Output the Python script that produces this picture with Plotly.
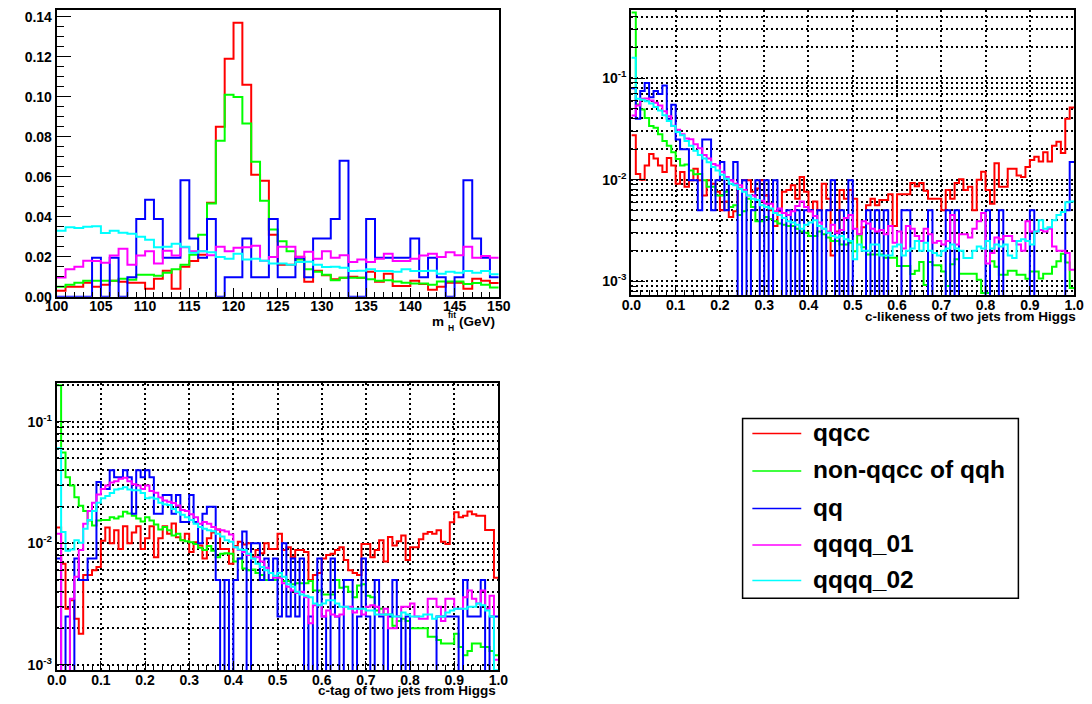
import numpy as np
import plotly.graph_objects as go

W, H = 1092, 704
FONT = "Liberation Sans, Arial, sans-serif"

# ------------------------------------------------------------------ data
series_names = ["qqcc", "non-qqcc of qqh", "qq", "qqqq_01", "qqqq_02"]
series_colors = ["#ff0000", "#00ff00", "#0000ff", "#ff00ff", "#00ffff"]

# panel 1 : m_H^fit, 50 bins of 1 GeV from 100 to 150
mh_edges = list(range(100, 151))
mh_qqcc = [0.003, 0.005, 0.005, 0.007, 0.005, 0.006, 0.008, 0.0075, 0.007, 0.007,
           0.004, 0.009, 0.013, 0.004, 0.015, 0.0178, 0.021, 0.047, 0.085, 0.119,
           0.137, 0.106, 0.061, 0.058, 0.031, 0.016, 0.016, 0.020, 0.0074, 0.013,
           0.0107, 0.0087, 0.0095, 0.010, 0.0095, 0.0125, 0.0074, 0.0115, 0.0053, 0.0053,
           0.008, 0.0063, 0.0035, 0.005, 0.007, 0.007, 0.004, 0.009, 0.008, 0.0068]
mh_nonqqcc = [0.005, 0.006, 0.007, 0.008, 0.008, 0.008, 0.008, 0.009, 0.0085, 0.011,
              0.011, 0.0105, 0.012, 0.0137, 0.016, 0.021, 0.031, 0.0466, 0.078, 0.101,
              0.0998, 0.0866, 0.0675, 0.048, 0.0336, 0.0277, 0.0227, 0.0186, 0.0137, 0.0125,
              0.0109, 0.0082, 0.0095, 0.0095, 0.0095, 0.0087, 0.008, 0.0082, 0.0076, 0.007,
              0.0066, 0.0066, 0.006, 0.0076, 0.0076, 0.0076, 0.0063, 0.0068, 0.006, 0.0046]
mh_qq = [0.0, 0.0, 0.0, 0.0, 0.0194, 0.0, 0.0194, 0.0, 0.0097, 0.0388,
         0.0485, 0.0388, 0.0194, 0.0194, 0.0582, 0.0291, 0.0194, 0.0388, 0.0, 0.0097,
         0.0097, 0.0291, 0.0097, 0.0097, 0.0388, 0.0097, 0.0097, 0.0194, 0.0097, 0.0291,
         0.0291, 0.0388, 0.0679, 0.0, 0.0, 0.0388, 0.0194, 0.0194, 0.0194, 0.0194,
         0.0291, 0.0097, 0.0194, 0.0097, 0.0, 0.0097, 0.0582, 0.0291, 0.0194, 0.0097]
mh_qqqq01 = [0.0096, 0.0137, 0.015, 0.018, 0.0178, 0.017, 0.0206, 0.024, 0.016, 0.0206,
             0.0227, 0.0166, 0.023, 0.0206, 0.0247, 0.0227, 0.0227, 0.0207, 0.025, 0.0227,
             0.0244, 0.0247, 0.0255, 0.018, 0.0198, 0.025, 0.025, 0.0198, 0.0224, 0.019,
             0.0227, 0.0194, 0.0207, 0.0173, 0.0186, 0.0173, 0.019, 0.0214, 0.0178, 0.0178,
             0.019, 0.0206, 0.0214, 0.0198, 0.0222, 0.0207, 0.025, 0.0194, 0.0203, 0.0194]
mh_qqqq02 = [0.033, 0.0347, 0.0343, 0.035, 0.0352, 0.0318, 0.033, 0.032, 0.0315, 0.030,
             0.0285, 0.0247, 0.025, 0.0265, 0.025, 0.022, 0.0227, 0.0222, 0.0198, 0.019,
             0.0214, 0.0186, 0.019, 0.018, 0.0166, 0.0166, 0.016, 0.0173, 0.0175, 0.016,
             0.0148, 0.015, 0.0145, 0.0128, 0.013, 0.0137, 0.0128, 0.0128, 0.0125, 0.0137,
             0.0128, 0.0128, 0.013, 0.0115, 0.0125, 0.012, 0.0128, 0.012, 0.0128, 0.0112]

# panel 2 : c-likeness, 100 bins from 0 to 1
cl_qqcc = [0.0273, 0.0114, 0.0100, 0.0138, 0.0179, 0.0162, 0.0138, 0.0119, 0.0163, 0.0138,
           0.0091, 0.0119, 0.0085, 0.0099, 0.0128, 0.0099, 0.0070, 0.0099, 0.0091, 0.0076,
           0.0050, 0.0061, 0.0043, 0.0049, 0.0082, 0.0099, 0.0099, 0.0076, 0.0082, 0.0099,
           0.0070, 0.0050, 0.0035, 0.0049, 0.0076, 0.0079, 0.0088, 0.0065, 0.0106, 0.0076,
           0.0049, 0.0061, 0.0050, 0.0091, 0.0065, 0.0018, 0.0031, 0.0079, 0.0065, 0.0079,
           0.0065, 0.0029, 0.0034, 0.0056, 0.0065, 0.0056, 0.0063, 0.0063, 0.0072, 0.0035,
           0.0072, 0.0072, 0.0072, 0.0093, 0.0086, 0.0093, 0.0078, 0.0065, 0.0065, 0.0065,
           0.0050, 0.0079, 0.0065, 0.0093, 0.0101, 0.0079, 0.0085, 0.0050, 0.0100, 0.0120,
           0.0079, 0.0058, 0.0145, 0.0085, 0.0085, 0.0128, 0.0128, 0.0110, 0.0106, 0.0133,
           0.0156, 0.0168, 0.0151, 0.0186, 0.0151, 0.0216, 0.0236, 0.0183, 0.0397, 0.0512]
cl_nonqqcc = [0.44, 0.055, 0.049, 0.0405, 0.0337, 0.0325, 0.028, 0.024, 0.0216, 0.0186,
              0.016, 0.0138, 0.0141, 0.0123, 0.0113, 0.0114, 0.0099, 0.0085, 0.0085, 0.0070,
              0.0070, 0.0076, 0.0054, 0.0056, 0.0045, 0.0049, 0.0065, 0.0054, 0.0039, 0.0039,
              0.0043, 0.0041, 0.0039, 0.0037, 0.0036, 0.0035, 0.0035, 0.0033, 0.0031, 0.0030,
              0.0028, 0.0028, 0.0031, 0.0029, 0.0027, 0.0025, 0.0025, 0.0023, 0.0023, 0.0024,
              0.00198, 0.00284, 0.00217, 0.00184, 0.00184, 0.00184, 0.00184, 0.00171, 0.00171, 0.00171,
              0.00142, 0.00142, 0.00142, 0.00118, 0.00127, 0.00155, 0.00092, 0.00155, 0.00144, 0.00144,
              0.00125, 0.00090, 0.00147, 0.00165, 0.00119, 0.00119, 0.00119, 0.00119, 0.00104, 0.00077,
              0.00077, 0.00158, 0.00139, 0.00116, 0.00116, 0.00127, 0.00127, 0.00116, 0.00116, 0.00106,
              0.00125, 0.00125, 0.00107, 0.00119, 0.00119, 0.00139, 0.00158, 0.00187, 0.00153, 0.00086]
cl_qq = [0.0795, 0.0398, 0.0746, 0.0895, 0.0646, 0.0746, 0.0696, 0.0845, 0.0398, 0.0547,
         0.0249, 0.0199, 0.0199, 0.0099, 0.0099, 0.0050, 0.0249, 0.0249, 0.0050, 0.0099,
         0.0149, 0.0050, 0.0099, 0.0149, 0.0, 0.0099, 0.0, 0.0050, 0.0099, 0.0,
         0.0099, 0.0, 0.0099, 0.0050, 0.0, 0.0050, 0.0, 0.0050, 0.0, 0.0050,
         0.0050, 0.0, 0.0050, 0.0, 0.0050, 0.0099, 0.0, 0.0050, 0.0, 0.0099,
         0.0, 0.0, 0.0, 0.0050, 0.0, 0.0050, 0.0, 0.0050, 0.0, 0.0,
         0.0, 0.0050, 0.0050, 0.0, 0.0, 0.0, 0.0, 0.0050, 0.0, 0.0,
         0.0, 0.0050, 0.0, 0.0050, 0.0, 0.0, 0.0, 0.0, 0.0, 0.0,
         0.0050, 0.0, 0.0, 0.0050, 0.0, 0.0, 0.0, 0.0, 0.0, 0.0,
         0.0050, 0.0, 0.0, 0.0, 0.0, 0.0, 0.0, 0.0, 0.0050, 0.0149]
cl_qqqq01 = [0.0428, 0.0535, 0.0625, 0.063, 0.060, 0.057, 0.0535, 0.047, 0.042, 0.034,
             0.031, 0.028, 0.0254, 0.025, 0.0223, 0.0204, 0.0175, 0.0162, 0.0143, 0.0138,
             0.012, 0.0106, 0.0099, 0.0091, 0.0088, 0.0079, 0.007, 0.007, 0.0063, 0.0062,
             0.0058, 0.0058, 0.0049, 0.0052, 0.0047, 0.0045, 0.0049, 0.0055, 0.0061, 0.0054,
             0.0049, 0.0044, 0.0038, 0.0033, 0.0031, 0.0036, 0.0030, 0.0032, 0.0042, 0.0045,
             0.0033, 0.0029, 0.0039, 0.0037, 0.0033, 0.0031, 0.0032, 0.0029, 0.0035, 0.0024,
             0.0031, 0.0021, 0.0035, 0.0033, 0.0028, 0.0025, 0.0033, 0.0029, 0.0024, 0.0025,
             0.0023, 0.0025, 0.0045, 0.0023, 0.0029, 0.0029, 0.0027, 0.0033, 0.0039, 0.0047,
             0.0015, 0.0019, 0.0027, 0.0026, 0.0028, 0.0028, 0.0025, 0.0023, 0.0020, 0.0039,
             0.0031, 0.0031, 0.0032, 0.0031, 0.0033, 0.0022, 0.0020, 0.0020, 0.0019, 0.0013]
cl_qqqq02 = [0.158, 0.0625, 0.061, 0.059, 0.056, 0.052, 0.048, 0.043, 0.0377, 0.0337,
             0.0295, 0.0273, 0.024, 0.0216, 0.0193, 0.0175, 0.0162, 0.0148, 0.0133, 0.0123,
             0.0112, 0.0102, 0.0091, 0.0088, 0.0081, 0.0076, 0.007, 0.0065, 0.0063, 0.0056,
             0.0054, 0.0052, 0.0047, 0.0045, 0.0042, 0.0039, 0.0038, 0.0036, 0.0033, 0.0036,
             0.0038, 0.0040, 0.0035, 0.0033, 0.0030, 0.0028, 0.0027, 0.0028, 0.0026, 0.0025,
             0.00165, 0.0023, 0.0020, 0.0020, 0.0023, 0.0023, 0.0018, 0.0018, 0.0018, 0.0022,
             0.0023, 0.0018, 0.0020, 0.0021, 0.0025, 0.0020, 0.0024, 0.0020, 0.0019, 0.0018,
             0.0020, 0.0021, 0.0023, 0.0021, 0.0020, 0.0017, 0.0017, 0.0020, 0.0022, 0.0021,
             0.0025, 0.0021, 0.0023, 0.0022, 0.0023, 0.0018, 0.0017, 0.0025, 0.0026, 0.0025,
             0.0023, 0.0031, 0.0040, 0.0033, 0.0034, 0.0040, 0.0045, 0.0048, 0.0060, 0.0061]

# panel 3 : c-tag, 100 bins from 0 to 1
ct_qqcc = [0.0135, 0.0068, 0.0029, 0.0034, 0.0024, 0.0018, 0.0055, 0.0055, 0.0060, 0.0064,
           0.0105, 0.0135, 0.0100, 0.0128, 0.0090, 0.0138, 0.0100, 0.0123, 0.0138, 0.0090,
           0.0110, 0.0138, 0.0077, 0.0110, 0.0138, 0.0120, 0.0146, 0.0112, 0.0106, 0.0120,
           0.0085, 0.0102, 0.0096, 0.0075, 0.0110, 0.0123, 0.0130, 0.0090, 0.0090, 0.0068,
           0.0095, 0.0103, 0.0098, 0.0100, 0.0077, 0.0088, 0.0083, 0.0100, 0.0090, 0.0090,
           0.0120, 0.0088, 0.0093, 0.0077, 0.0088, 0.0088, 0.0085, 0.0050, 0.0055, 0.0057,
           0.0075, 0.0080, 0.0082, 0.0088, 0.0093, 0.0073, 0.0060, 0.0057, 0.0055, 0.0099,
           0.0099, 0.0077, 0.0088, 0.0106, 0.0071, 0.0113, 0.0096, 0.0104, 0.0116, 0.0073,
           0.0093, 0.0093, 0.0108, 0.0120, 0.0124, 0.0120, 0.0128, 0.0103, 0.0099, 0.0149,
           0.0180, 0.0164, 0.0169, 0.0183, 0.0174, 0.0169, 0.0169, 0.0129, 0.0129, 0.0052]
ct_nonqqcc = [0.20, 0.056, 0.035, 0.030, 0.024, 0.0204, 0.0185, 0.0154, 0.014, 0.0154,
              0.0156, 0.0156, 0.0164, 0.016, 0.0166, 0.0182, 0.0176, 0.0169, 0.016, 0.0151,
              0.0164, 0.0154, 0.0143, 0.013, 0.0136, 0.0128, 0.0116, 0.012, 0.0106, 0.0104,
              0.0102, 0.0099, 0.0092, 0.0088, 0.0095, 0.0087, 0.0077, 0.0082, 0.0083, 0.0082,
              0.0071, 0.0075, 0.0062, 0.0060, 0.0061, 0.0057, 0.0055, 0.0050, 0.0050, 0.0050,
              0.0053, 0.0049, 0.0049, 0.0046, 0.0047, 0.0047, 0.0047, 0.0049, 0.0041, 0.0041,
              0.0038, 0.0038, 0.0038, 0.0050, 0.0043, 0.0044, 0.0040, 0.0036, 0.0045, 0.0046,
              0.0037, 0.0036, 0.0028, 0.0029, 0.0026, 0.0026, 0.0021, 0.0023, 0.0024, 0.0023,
              0.0020, 0.0020, 0.0020, 0.0020, 0.0017, 0.0017, 0.0016, 0.0015, 0.0015, 0.0015,
              0.0018, 0.0014, 0.0012, 0.0013, 0.0015, 0.0015, 0.0014, 0.0014, 0.0013, 0.0012]
ct_qq = [0.0075, 0.0, 0.0025, 0.0, 0.0075, 0.005, 0.005, 0.0075, 0.0075, 0.032,
         0.028, 0.028, 0.040, 0.035, 0.035, 0.040, 0.035, 0.0175, 0.040, 0.035,
         0.040, 0.035, 0.0175, 0.0175, 0.025, 0.025, 0.0175, 0.025, 0.015, 0.015,
         0.025, 0.015, 0.010, 0.0175, 0.020, 0.020, 0.005, 0.0, 0.005, 0.0,
         0.005, 0.0075, 0.0125, 0.0, 0.010, 0.010, 0.005, 0.0075, 0.005, 0.0075,
         0.0025, 0.010, 0.0025, 0.0075, 0.0025, 0.0075, 0.0, 0.0025, 0.0, 0.0075,
         0.0025, 0.0, 0.0075, 0.0025, 0.0, 0.005, 0.005, 0.0, 0.0025, 0.0075,
         0.0025, 0.0, 0.005, 0.0025, 0.0, 0.0025, 0.005, 0.0025, 0.0, 0.0025,
         0.0, 0.0, 0.0, 0.0, 0.0, 0.0, 0.0025, 0.0025, 0.0025, 0.0025,
         0.0025, 0.0, 0.005, 0.0025, 0.0025, 0.0025, 0.005, 0.0, 0.0025, 0.0025]
ct_qqqq01 = [0.012, 0.0, 0.0, 0.0035, 0.0053, 0.0088, 0.0145, 0.0185, 0.0216, 0.0253,
             0.0280, 0.0300, 0.0317, 0.0325, 0.0340, 0.0346, 0.0325, 0.0306, 0.0300, 0.0280,
             0.0300, 0.0270, 0.0261, 0.0238, 0.0225, 0.0220, 0.0215, 0.0205, 0.0188, 0.0185,
             0.0174, 0.0164, 0.0145, 0.0150, 0.0145, 0.0136, 0.0130, 0.0128, 0.0125, 0.0118,
             0.0093, 0.0088, 0.0085, 0.0080, 0.0075, 0.0077, 0.0071, 0.0063, 0.0057, 0.0052,
             0.0052, 0.0047, 0.0044, 0.0041, 0.0039, 0.0040, 0.0036, 0.0022, 0.0031, 0.0031,
             0.0025, 0.0028, 0.0026, 0.0025, 0.0026, 0.0030, 0.0030, 0.0027, 0.0029, 0.0026,
             0.0030, 0.0031, 0.0030, 0.0026, 0.0029, 0.0020, 0.0020, 0.0025, 0.0030, 0.0030,
             0.0032, 0.0025, 0.0024, 0.0024, 0.0035, 0.0035, 0.0030, 0.0023, 0.0035, 0.0035,
             0.0029, 0.0029, 0.0036, 0.0041, 0.0035, 0.0032, 0.0041, 0.0029, 0.0037, 0.0011]
ct_qqqq02 = [0.0607, 0.0124, 0.0087, 0.0089, 0.0106, 0.0101, 0.0132, 0.0156, 0.0185, 0.0216,
             0.0235, 0.0245, 0.026, 0.0278, 0.0282, 0.0290, 0.0278, 0.0273, 0.0273, 0.026,
             0.0235, 0.0238, 0.0233, 0.0216, 0.0210, 0.0207, 0.0192, 0.018, 0.0172, 0.0164,
             0.0156, 0.0145, 0.0136, 0.0132, 0.0128, 0.0126, 0.0120, 0.0114, 0.0106, 0.0103,
             0.0093, 0.0089, 0.0088, 0.0082, 0.0075, 0.0068, 0.0064, 0.0060, 0.0057, 0.0054,
             0.0057, 0.0053, 0.0046, 0.0044, 0.0040, 0.0038, 0.0037, 0.0036, 0.0032, 0.0031,
             0.0032, 0.0034, 0.0034, 0.0032, 0.0030, 0.0030, 0.0029, 0.0029, 0.0029, 0.0029,
             0.0028, 0.0028, 0.0026, 0.0026, 0.0026, 0.0026, 0.0025, 0.0025, 0.0027, 0.0026,
             0.0025, 0.0025, 0.0025, 0.0026, 0.0026, 0.0024, 0.0025, 0.0025, 0.0027, 0.0028,
             0.0029, 0.0029, 0.0029, 0.0030, 0.0030, 0.0032, 0.0031, 0.0028, 0.0025, 0.0009]

x_edges_unit = np.linspace(0.0, 1.0, 101)

# ------------------------------------------------------------------ helpers
def hist_trace(edges, vals, color, xa, ya, log=False):
    v = np.asarray(vals, dtype=float)
    if log:
        v = np.where(v > 0, v, 1e-7)   # empty bins drop below the axis
    y = np.append(v, v[-1])
    return go.Scatter(x=list(edges), y=y, mode="lines",
                      line=dict(color=color, width=2, shape="hv"),
                      xaxis=xa, yaxis=ya, showlegend=False, hoverinfo="skip")

fig = go.Figure()
panels = [
    (mh_edges, [mh_qqcc, mh_nonqqcc, mh_qq, mh_qqqq01, mh_qqqq02], "x", "y", False),
    (x_edges_unit, [cl_qqcc, cl_nonqqcc, cl_qq, cl_qqqq01, cl_qqqq02], "x2", "y2", True),
    (x_edges_unit, [ct_qqcc, ct_nonqqcc, ct_qq, ct_qqqq01, ct_qqqq02], "x3", "y3", True),
]
for edges, sers, xa, ya, lg in panels:
    for vals, col in zip(sers, series_colors):
        fig.add_trace(hist_trace(edges, vals, col, xa, ya, lg))

def px_dom_x(a, b):
    return [a / W, min(1.0, b / W)]

def px_dom_y(top, bottom):
    return [1 - bottom / H, 1 - top / H]

tickfont = dict(family=FONT, size=14, color="black", weight="bold")
GRID = dict(showgrid=True, gridcolor="black", gridwidth=1.5, griddash="2px,3px")
frame = dict(showline=True, linecolor="black", linewidth=2, mirror=True, zeroline=False)

def log_minor(lo, hi):
    vals = []
    for d in range(-5, 1):
        for m in range(2, 10):
            v = m * 10.0 ** d
            if lo < v < hi:
                vals.append(v)
    return vals

def log_axis(dom, rng):
    lo, hi = 10 ** rng[0], 10 ** rng[1]
    return dict(domain=dom, type="log", range=rng, tickmode="array",
                tickvals=[1e-3, 1e-2, 1e-1],
                ticktext=["10<sup>-3</sup>", "10<sup>-2</sup>", "10<sup>-1</sup>"],
                ticks="inside", ticklen=14, tickwidth=1, tickcolor="black",
                tickfont=tickfont,
                minor=dict(tickmode="array", tickvals=log_minor(lo, hi), ticks="inside",
                           ticklen=7, tickcolor="black", showgrid=True, gridcolor="black",
                           gridwidth=1.5, griddash="2px,3px"),
                **GRID, **frame)

def unit_xaxis(dom, anchor):
    return dict(domain=dom, range=[0, 1], anchor=anchor, tickmode="linear", tick0=0, dtick=0.1,
                tickformat=".1f", ticks="inside", ticklen=9, tickwidth=1, tickcolor="black",
                tickfont=tickfont, ticklabelstandoff=-4,
                minor=dict(dtick=0.02, tick0=0, ticks="inside", ticklen=5, tickcolor="black",
                           showgrid=False),
                **GRID, **frame)

layout = dict(
    width=W, height=H, margin=dict(l=0, r=0, t=0, b=0),
    paper_bgcolor="white", plot_bgcolor="white", showlegend=False,
    xaxis=dict(domain=px_dom_x(45.7, 497.7), range=[100, 150], anchor="y",
               tickmode="linear", tick0=100, dtick=5, ticks="inside", ticklen=9,
               tickwidth=1, tickcolor="black", tickfont=tickfont, ticklabelstandoff=-4,
               minor=dict(dtick=1, tick0=100, ticks="inside", ticklen=5, tickcolor="black"),
               showgrid=False, **frame),
    yaxis=dict(domain=px_dom_y(9, 299.5), range=[0, 0.1434], anchor="x",
               tickmode="linear", tick0=0, dtick=0.02, tickformat=".2f",
               ticks="inside", ticklen=14, tickwidth=1, tickcolor="black", tickfont=tickfont,
               minor=dict(dtick=0.005, tick0=0, ticks="inside", ticklen=7, tickcolor="black"),
               showgrid=False, **frame),
    xaxis2=unit_xaxis(px_dom_x(633.3, 1086), "y2"),
    yaxis2=dict(anchor="x2", **log_axis(px_dom_y(9.3, 297.7), [-3.133, -0.333])),
    xaxis3=unit_xaxis(px_dom_x(45.7, 497.3), "y3"),
    yaxis3=dict(anchor="x3", **log_axis(px_dom_y(386.7, 677.7), [-3.043, -0.678])),
)
fig.update_layout(**layout)

def ann(text, x, y, size, xanchor="left", yanchor="middle"):
    return dict(text=text, x=x / W, y=1 - y / H, xref="paper", yref="paper",
                showarrow=False, xanchor=xanchor, yanchor=yanchor,
                font=dict(family=FONT, size=size, color="black", weight="bold"))

annotations = [
    ann("(GeV)", 496, 325, 13.5, "right"),
    ann("m", 444, 325, 13.5, "right"),
    ann("fit", 444, 318, 8.5, "left"),
    ann("H", 444, 331, 8.5, "left"),
    ann("c-likeness of two jets from Higgs", 1090, 320, 13.5, "right"),
    ann("c-tag of two jets from Higgs", 497, 698.5, 13.5, "right"),
]

# legend box drawn by hand (ROOT TLegend look)
shapes = [dict(type="rect", xref="paper", yref="paper",
               x0=747 / W, x1=1029 / W, y0=1 - 605 / H, y1=1 - 423 / H,
               line=dict(color="black", width=1.5), fillcolor="white", layer="above")]
legend_rows = [438, 476, 514, 551, 587]
for name, col, yy in zip(series_names, series_colors, legend_rows):
    shapes.append(dict(type="line", xref="paper", yref="paper",
                       x0=757 / W, x1=807 / W, y0=1 - yy / H, y1=1 - yy / H,
                       line=dict(color=col, width=1.5), layer="above"))
    annotations.append(ann(name, 817, yy - 1, 24.5, "left"))

fig.update_layout(annotations=annotations, shapes=shapes)
fig.write_html("out.html")
